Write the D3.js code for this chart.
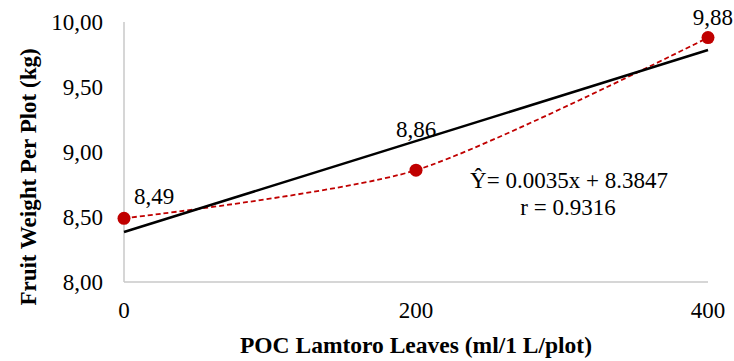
<!DOCTYPE html>
<html>
<head>
<meta charset="utf-8">
<script src="https://cdn.jsdelivr.net/npm/d3@7"></script>
<style>
  body { margin: 0; background: #fff; }
  svg { display: block; }
</style>
</head>
<body>
<script>
const doses = [0, 200, 400];
const weights = [8.49, 8.86, 9.88];
const yTicks = [8.0, 8.5, 9.0, 9.5, 10.0];
const xTicks = [0, 200, 400];
const slope = 0.0035;
const intercept = 8.3847;
const eqText = "Ŷ= 0.0035x + 8.3847";
const rText = "r = 0.9316";

const width = 734, height = 361;
const font = "'Liberation Serif', 'Times New Roman', serif";

const svg = d3.select("body").append("svg")
  .attr("width", width).attr("height", height);

const xScale = d3.scaleLinear().domain([0, 400]).range([124, 708]);
const yScale = d3.scaleLinear().domain([8, 10]).range([282, 22]);

// axes lines
svg.append("line")
  .attr("x1", xScale(0)).attr("x2", xScale(400))
  .attr("y1", yScale(8)).attr("y2", yScale(8))
  .attr("stroke", "#c8c8c8").attr("stroke-width", 1.5);
svg.append("line")
  .attr("x1", xScale(0)).attr("x2", xScale(0))
  .attr("y1", yScale(8)).attr("y2", yScale(10))
  .attr("stroke", "#c8c8c8").attr("stroke-width", 1.5);

// tick labels
svg.selectAll(".ytick").data(yTicks).enter().append("text")
  .attr("x", 103).attr("y", (d) => yScale(d) + 8)
  .attr("text-anchor", "end")
  .attr("font-family", font).attr("font-size", "23px")
  .text((d) => d.toFixed(2).replace(".", ","));

svg.selectAll(".xtick").data(xTicks).enter().append("text")
  .attr("x", (d) => xScale(d)).attr("y", 318)
  .attr("text-anchor", "middle")
  .attr("font-family", font).attr("font-size", "23px")
  .text((d) => d);

// smoothed data line
const pts = doses.map((d, i) => [d, weights[i]]);
const line = d3.line()
  .x((d) => xScale(d[0])).y((d) => yScale(d[1]))
  .curve(d3.curveCardinal.tension(0.25));
svg.append("path")
  .attr("d", line(pts))
  .attr("fill", "none")
  .attr("stroke", "#c00000").attr("stroke-width", 1.8)
  .attr("stroke-dasharray", "5,3");

svg.selectAll(".pt").data(pts).enter().append("circle")
  .attr("cx", (d) => xScale(d[0])).attr("cy", (d) => yScale(d[1]))
  .attr("r", 6.5).attr("fill", "#c00000");

// regression line
svg.append("line")
  .attr("x1", xScale(0)).attr("y1", yScale(intercept))
  .attr("x2", xScale(400)).attr("y2", yScale(intercept + slope * 400))
  .attr("stroke", "#000").attr("stroke-width", 2.5);

// data labels
const labelOffsets = [[30, -14, "middle"], [0, -33, "middle"], [25, -13, "end"]];
svg.selectAll(".lbl").data(pts).enter().append("text")
  .attr("x", (d, i) => xScale(d[0]) + labelOffsets[i][0])
  .attr("y", (d, i) => yScale(d[1]) + labelOffsets[i][1])
  .attr("text-anchor", (d, i) => labelOffsets[i][2])
  .attr("font-family", font).attr("font-size", "23px")
  .text((d) => d[1].toFixed(2).replace(".", ","));

// equation
svg.append("text")
  .attr("x", 569).attr("y", 188)
  .attr("text-anchor", "middle")
  .attr("font-family", font).attr("font-size", "23px")
  .text(eqText);
svg.append("text")
  .attr("x", 568).attr("y", 215)
  .attr("text-anchor", "middle")
  .attr("font-family", font).attr("font-size", "23px")
  .text(rText);

// axis titles
svg.append("text")
  .attr("x", 416).attr("y", 353)
  .attr("text-anchor", "middle")
  .attr("font-family", font).attr("font-size", "23.5px").attr("font-weight", "bold")
  .text("POC Lamtoro Leaves (ml/1 L/plot)");
svg.append("text")
  .attr("transform", "translate(36,177) rotate(-90)")
  .attr("text-anchor", "middle")
  .attr("font-family", font).attr("font-size", "23px").attr("font-weight", "bold")
  .text("Fruit Weight Per Plot (kg)");
</script>
</body>
</html>
